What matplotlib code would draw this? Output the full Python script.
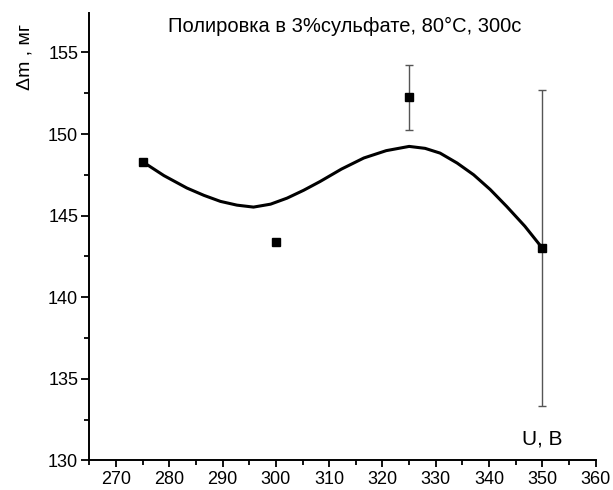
import numpy as np
import matplotlib
matplotlib.use("Agg")
import matplotlib.pyplot as plt
from matplotlib.ticker import MultipleLocator

plt.rcParams['font.family'] = ['Liberation Sans', 'DejaVu Sans']

# measured points
voltage = [275, 300, 325, 350]
mass_loss = [148.3, 143.4, 152.25, 143.0]
mass_err = [0.0, 0.0, 2.0, 9.7]

# smoothed trend curve (sampled)
curve_u = [275, 279, 283.3, 286.5, 289.6, 292.7, 295.8, 299, 302.1, 305.2, 308.3,
           312.3, 316.5, 320.7, 325.0, 328, 330.8, 334, 337.1, 340.2, 343.3, 346.7, 350]
curve_m = [148.3, 147.45, 146.69, 146.24, 145.87, 145.64, 145.52, 145.7, 146.07, 146.55, 147.09,
           147.85, 148.53, 148.98, 149.24, 149.12, 148.83, 148.22, 147.5, 146.6, 145.56, 144.35, 143.0]

fig = plt.figure(figsize=(6.13, 4.90), dpi=100)
ax = fig.add_axes([0.1457, 0.0606, 0.8261, 0.9123])

ax.plot(curve_u, curve_m, color='black', lw=2.2, zorder=2)
ax.errorbar(voltage, mass_loss, yerr=mass_err, fmt='none', ecolor='#555555',
            elinewidth=1.0, capsize=3, capthick=1.0, zorder=1)
ax.plot(voltage, mass_loss, 's', color='black', ms=5.5, zorder=3)

ax.set_xlim(265, 360)
ax.set_ylim(130, 157.4)
ax.xaxis.set_major_locator(MultipleLocator(10))
ax.xaxis.set_minor_locator(MultipleLocator(5))
ax.yaxis.set_major_locator(MultipleLocator(5))
ax.yaxis.set_minor_locator(MultipleLocator(2.5))

for side in ['top', 'right']:
    ax.spines[side].set_visible(False)
for side in ['left', 'bottom']:
    ax.spines[side].set_linewidth(1.4)

ax.tick_params(which='major', direction='out', length=5, width=1.3, labelsize=13, pad=3)
ax.tick_params(which='minor', direction='out', length=3.5, width=1.3)
ax.tick_params(axis='y', which='major', length=6, pad=2)

fig.text(0.563, 0.945, 'Полировка в 3%сульфате, 80°C, 300с', ha='center', va='center',
         fontsize=14.5)
fig.text(0.040, 0.883, 'Δm , мг', rotation=90, ha='center', va='center', fontsize=14)
fig.text(0.885, 0.104, 'U, B', ha='center', va='center', fontsize=15)

fig.savefig('out.png', dpi=100)
